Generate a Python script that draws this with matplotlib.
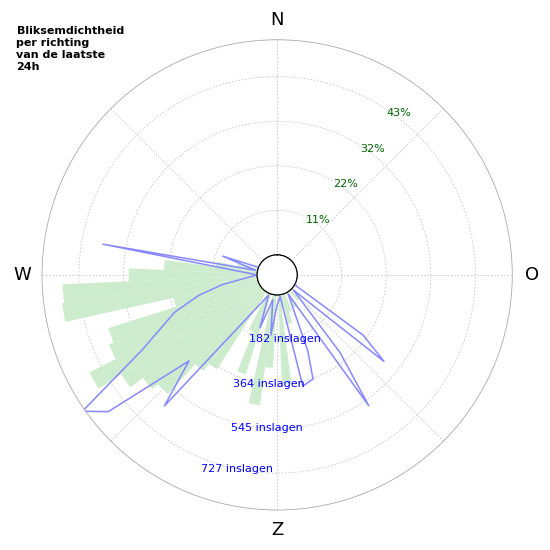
import numpy as np
import matplotlib
matplotlib.use("Agg")
import matplotlib.pyplot as plt

# green bars: percentage of strikes per direction (5 degree bins)
bar_dirs = [140, 150, 160, 165, 170, 175, 185, 190, 200, 205, 215, 220, 225, 230,
            235, 240, 245, 250, 255, 260, 265, 270, 275, 280, 285]
bar_pct = [3.0, 4.0, 4.5, 7.3, 3.4, 21.5, 17.6, 26.9, 20.3, 10.0, 22.2, 24.4, 34.2, 36.0,
           39.8, 46.2, 39.1, 37.9, 20.8, 47.5, 47.0, 31.0, 22.5, 10.0, 5.0]

# blue line: number of strikes per direction
line_dirs = [0, 115, 120, 125, 129, 133, 141, 145, 150, 158, 161, 167, 172, 180, 186, 190,
             198, 203, 220.7, 225.7, 231, 235, 240.8, 250, 255.4, 260, 270, 280, 282, 289, 292, 360]
line_cnt = [0, 0, 8, 347, 479, 8, 326, 570, 8, 252, 368, 384, 8, 41, 165, 21,
            145, 8, 624, 421, 805, 888, 553, 363, 248, 145, 0, 640, 8, 153, 0, 0]

ring_pct = [10.75, 21.5, 32.25, 43.0]
ring_lbl = ["11%", "22%", "32%", "43%"]
cnt_lbl = ["182 inslagen", "364 inslagen", "545 inslagen", "727 inslagen"]
cnt_dir = [173, 184.6, 184, 191.8]
rmax = 51.9
cnt_per_pct = 181.75 / 10.75

fig = plt.figure(figsize=(5.5, 5.5), dpi=100)
ax = fig.add_axes([0.0764, 0.0727, 0.855, 0.855], projection="polar")
ax.set_theta_zero_location("N")
ax.set_theta_direction(-1)
ax.set_rorigin(-rmax * 20 / 215)
ax.set_ylim(0, rmax)

ax.bar(np.radians(bar_dirs), bar_pct, width=np.radians(5), bottom=0,
       color="#cdeccd", edgecolor="none", zorder=2)
ax.plot(np.radians(line_dirs), np.array(line_cnt) / cnt_per_pct,
        color="#8888ff", lw=1.1, zorder=3)

t = np.linspace(0, 2 * np.pi, 200)
ax.plot(t, np.zeros_like(t), color="black", lw=0.8, zorder=4)

ax.set_xticks(np.radians(np.arange(0, 360, 45)))
ax.set_xticklabels(["N", "", "O", "", "Z", "", "W", ""], fontsize=13)
ax.tick_params(axis="x", pad=4)
ax.set_yticks(ring_pct)
ax.set_yticklabels([])
ax.grid(True, color="#c8c8c8", ls=(0, (2, 2)), lw=0.6)
ax.spines["polar"].set_color("#aaaaaa")
ax.spines["polar"].set_linewidth(0.6)

for r, s in zip(ring_pct, ring_lbl):
    ax.text(np.radians(37), r + 1.0, s, color="darkgreen", fontsize=8,
            ha="center", va="center", zorder=5)
for r, s, d in zip(ring_pct, cnt_lbl, cnt_dir):
    ax.text(np.radians(d), r, s, color="blue", fontsize=8,
            ha="center", va="center", zorder=5)

fig.text(0.03, 0.952, "Bliksemdichtheid\nper richting\nvan de laatste\n24h",
         fontsize=8, fontweight="bold", va="top", ha="left", linespacing=1.25)

fig.savefig("out.png", dpi=100)
